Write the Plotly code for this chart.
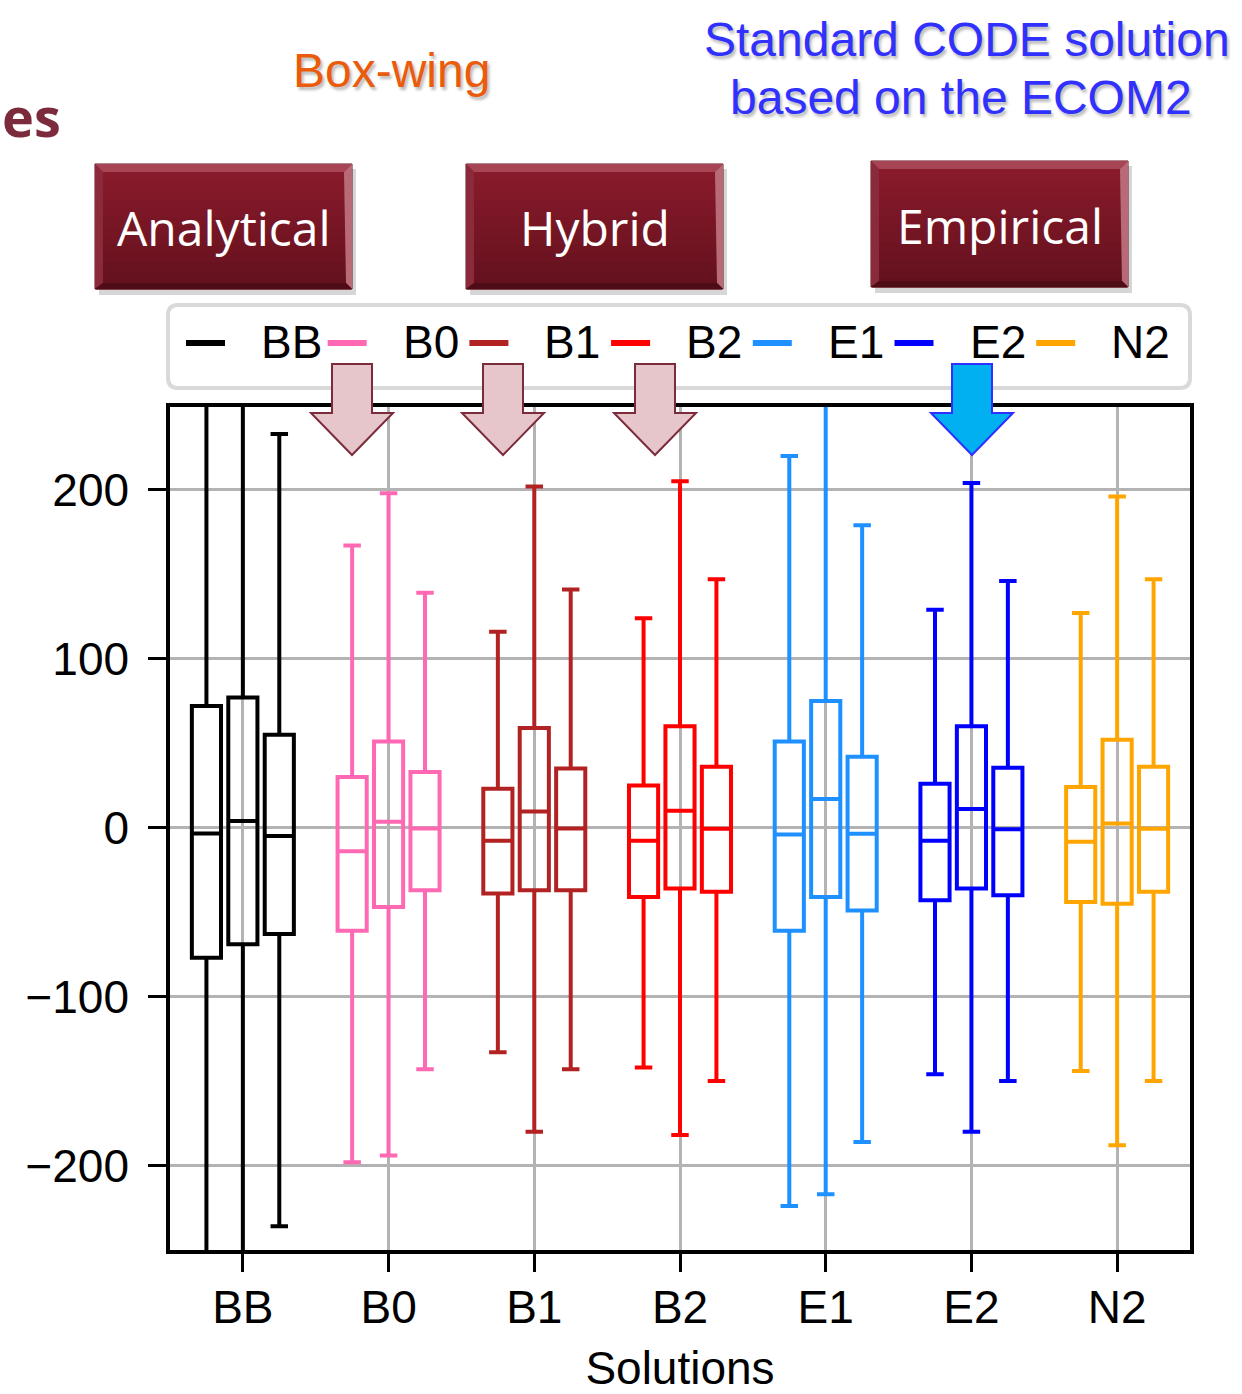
import plotly.graph_objects as go

# ---- data ---------------------------------------------------------------
solutions = ["BB", "B0", "B1", "B2", "E1", "E2", "N2"]
colors = ["#000000", "#ff69b4", "#b22222", "#ff0000", "#1e90ff", "#0000ff", "#ffa500"]

# three variants per solution (left, centre, right); values in residual units
q1 = [
    [-77, -69, -63],
    [-61, -47, -37],
    [-39, -37, -37],
    [-41, -36, -38],
    [-61, -41, -49],
    [-43, -36, -40],
    [-44, -45, -38],
]
median = [
    [-3.5, 4, -5],
    [-14, 3.5, -0.5],
    [-7.7, 9.5, -0.5],
    [-7.7, 10, -0.6],
    [-4, 17, -3.6],
    [-7.7, 11, -1],
    [-8.3, 2.4, -0.6],
]
q3 = [
    [72, 77, 55],
    [30, 51, 33],
    [23, 59, 35],
    [25, 60, 36],
    [51, 75, 42],
    [26, 60, 35.5],
    [24, 52, 36],
]
upper = [
    [300, 300, 233],
    [167, 198, 139],
    [116, 202, 141],
    [124, 205, 147],
    [220, 300, 179],
    [129, 204, 146],
    [127, 196, 147],
]
lower = [
    [-300, -300, -236],
    [-198, -194, -143],
    [-133, -180, -143],
    [-142, -182, -150],
    [-224, -217, -186],
    [-146, -180, -150],
    [-144, -188, -150],
]
y_ticks = [-200, -100, 0, 100, 200]
categories = ["Analytical", "Hybrid", "Empirical"]

# ---- page geometry (pixels) --------------------------------------------
W, H = 1242, 1394
L, R, T, B = 170, 1190, 407, 1250


def fx(p):
    return (p - L) / (R - L)


def fy(p):
    return (B - p) / (B - T)


AXIS_FONT = "Liberation Sans, Arial, sans-serif"
SOFT_SHADOW = "2px 3px 3px rgba(0,0,0,0.28)"
fig = go.Figure()

offsets = [-0.25, 0.0, 0.25]
for i, (name, col) in enumerate(zip(solutions, colors)):
    for j, off in enumerate(offsets):
        fig.add_trace(go.Box(
            x=[i + off], q1=[q1[i][j]], median=[median[i][j]], q3=[q3[i][j]],
            lowerfence=[lower[i][j]], upperfence=[upper[i][j]],
            width=0.2, whiskerwidth=0.6, boxpoints=False,
            line=dict(color=col, width=4), fillcolor="rgba(0,0,0,0)",
            name=name, showlegend=False, hoverinfo="skip",
        ))

shapes = []
annotations = []


def rect(x0, y0, x1, y1, fill, line_color=None, line_width=0):
    shapes.append(dict(
        type="rect", xref="paper", yref="paper",
        x0=fx(x0), x1=fx(x1), y0=fy(y1), y1=fy(y0),
        fillcolor=fill, line=dict(color=line_color or fill, width=line_width),
        layer="above",
    ))


def poly(points, fill, line_color, line_width):
    d = "M " + " L ".join(f"{fx(px):.5f},{fy(py):.5f}" for px, py in points) + " Z"
    shapes.append(dict(type="path", xref="paper", yref="paper", path=d,
                       fillcolor=fill, line=dict(color=line_color, width=line_width),
                       layer="above"))


def rounded_box(x0, y0, x1, y1, r, fill, line_color, line_width):
    def P(px, py):
        return f"{fx(px):.5f},{fy(py):.5f}"
    d = (f"M {P(x0 + r, y0)} L {P(x1 - r, y0)} Q {P(x1, y0)} {P(x1, y0 + r)} "
         f"L {P(x1, y1 - r)} Q {P(x1, y1)} {P(x1 - r, y1)} "
         f"L {P(x0 + r, y1)} Q {P(x0, y1)} {P(x0, y1 - r)} "
         f"L {P(x0, y0 + r)} Q {P(x0, y0)} {P(x0 + r, y0)} Z")
    shapes.append(dict(type="path", xref="paper", yref="paper", path=d,
                       fillcolor=fill, line=dict(color=line_color, width=line_width),
                       layer="above"))


def text(px, py, s, size, color, family, bold=False, xanchor="center", shadow=None):
    font = dict(size=size, color=color, family=family,
                weight="bold" if bold else "normal")
    if shadow:
        font["shadow"] = shadow
    annotations.append(dict(
        x=fx(px), y=fy(py), xref="paper", yref="paper", text=s,
        showarrow=False, xanchor=xanchor, yanchor="middle", font=font))


# ---- legend row -----------------------------------------------------------
rounded_box(168, 305, 1190, 388, 10, "white", "#d9d9d9", 4)
for k, (name, col) in enumerate(zip(solutions, colors)):
    x0 = 186 + 141.7 * k
    shapes.append(dict(type="line", xref="paper", yref="paper",
                       x0=fx(x0), x1=fx(x0 + 39), y0=fy(343), y1=fy(343),
                       line=dict(color=col, width=6), layer="above"))
    text(x0 + 73, 342, name, 46, "black", AXIS_FONT, xanchor="left")

# ---- category buttons -----------------------------------------------------
button_boxes = [(95, 164, 352, 289), (466, 164, 723, 289), (871, 161, 1128, 287)]
top_rgb, bot_rgb = (138, 27, 44), (100, 17, 30)
for label, (x0, y0, x1, y1) in zip(categories, button_boxes):
    rect(x0 + 4, y0 + 5, x1 + 4, y1 + 6, "rgba(0,0,0,0.16)")
    rect(x0, y0, x1, y1, "#5a0e19", "#5a0e19", 1)
    n = 14
    h = (y1 - y0) / n
    for s in range(n):
        t = s / (n - 1)
        c = tuple(round(a + (b - a) * t) for a, b in zip(top_rgb, bot_rgb))
        rect(x0 + 1, y0 + s * h, x1 - 1, y0 + (s + 1) * h + 0.6, f"rgb{c}")
    poly([(x0, y0), (x1, y0), (x1 - 8, y0 + 8), (x0 + 8, y0 + 8)], "#a84555", "#a84555", 0)
    poly([(x0, y0), (x0 + 8, y0 + 8), (x0 + 8, y1 - 6), (x0, y1)], "#8a2a3a", "#8a2a3a", 0)
    poly([(x1, y0), (x1, y1), (x1 - 6, y1 - 6), (x1 - 8, y0 + 8)], "#b86a76", "#b86a76", 0)
    poly([(x0, y1), (x0 + 8, y1 - 6), (x1 - 6, y1 - 6), (x1, y1)], "#4e0c16", "#4e0c16", 0)
    text((x0 + x1) / 2, (y0 + y1) / 2 + 1, label, 48, "white", "Open Sans, Noto Sans, sans-serif")

# ---- pointer arrows -------------------------------------------------------
def arrow(cx, fill, edge):
    poly([(cx - 20, 364), (cx + 20, 364), (cx + 20, 413), (cx + 41, 413),
          (cx, 455), (cx - 41, 413), (cx - 20, 413)], fill, edge, 2)


for cx in (352, 503, 655):
    arrow(cx, "#e6c6cb", "#7b2c3a")
arrow(972, "#00b0f0", "#2f2fff")

# ---- headline texts -------------------------------------------------------
text(0, 116, "es", 54, "#7b2b3b", "Open Sans, sans-serif", bold=True, xanchor="left")
text(391, 70, "Box-wing", 48, "#ea5b0c", AXIS_FONT, shadow=SOFT_SHADOW)
text(967, 40, "Standard CODE solution", 48, "#3030ff", AXIS_FONT, shadow=SOFT_SHADOW)
text(961, 98, "based on the ECOM2", 48, "#3030ff", AXIS_FONT, shadow=SOFT_SHADOW)

axis_common = dict(
    showgrid=True, gridcolor="#b3b3b3", gridwidth=3, zeroline=False,
    showline=True, linecolor="black", linewidth=3.5, mirror=True,
    ticks="outside", ticklen=18, tickwidth=3, tickcolor="black",
    tickfont=dict(family=AXIS_FONT, size=46, color="black"),
)

fig.update_layout(
    width=W, height=H,
    margin=dict(l=L, r=W - R, t=T, b=H - B, autoexpand=False),
    paper_bgcolor="white", plot_bgcolor="white", showlegend=False,
    xaxis=dict(range=[-0.5, 6.5], tickvals=list(range(len(solutions))), ticktext=solutions,
               ticklabelstandoff=-4,
               title=dict(text="Solutions", standoff=30,
                          font=dict(family=AXIS_FONT, size=46, color="black")),
               **axis_common),
    yaxis=dict(range=[-250, 249], tickvals=y_ticks, ticklabelstandoff=10, **axis_common),
    shapes=shapes, annotations=annotations,
)

fig.write_html("out.html")
